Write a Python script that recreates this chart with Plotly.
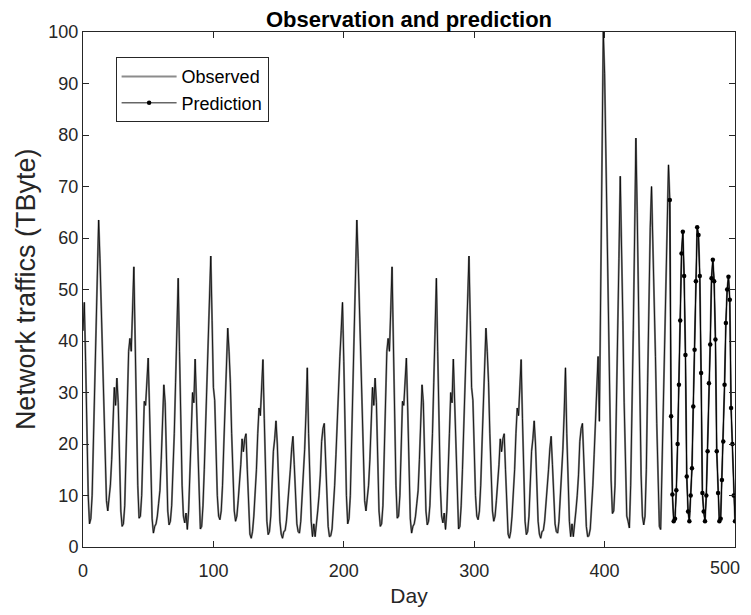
import plotly.graph_objects as go

# Repeating segment of daily observed traffic (days 0-197, repeated for days 198-395)
cycle_values = [
    42, 47.5, 36, 22, 10, 4.5, 5.5, 10, 20, 32,
    44, 55, 63.5, 56, 46, 36, 26, 15, 9, 7,
    9, 12, 17, 25, 31, 27.5, 32.8, 28, 17, 7,
    4, 4.5, 8, 17, 28, 38, 40.5, 38, 46, 54.4,
    40, 25, 12, 5.6, 6, 10, 19, 28.3, 27.5, 33,
    36.7, 27, 15, 5.5, 2.7, 4, 4.5, 6, 8.5, 11,
    17, 26, 31.5, 28, 16, 7, 4.3, 5, 8, 14,
    22, 32, 42, 52.2, 38, 24, 12, 6, 4.7, 6.6,
    3.4, 7, 13, 22, 30, 28, 36.5, 28, 17, 8,
    3.5, 4, 8, 15, 24, 33, 42, 50, 56.5, 44,
    31, 28.5, 18, 10, 6, 5.3, 7, 12, 20, 28,
    35, 42.5, 38, 32, 22, 13, 7, 5, 6, 9,
    12, 16, 21, 18.5, 21, 22, 15, 7, 2.5, 1.7,
    3, 6, 10, 15, 22, 27, 25.5, 31, 36.4, 25,
    13, 5, 2.4, 3, 6, 12, 18.6, 21, 24.5, 20,
    12, 5, 2.5, 1.7, 3, 3.2, 5, 8, 11, 15,
    19, 21.5, 16, 9, 4.5, 3, 2.7, 5, 9, 13,
    19, 26, 34.8, 22, 12, 5, 2, 4.5, 2, 4,
    7, 10, 14, 20.5, 23, 24, 17, 9, 4, 2,
    2.2, 3.5, 7, 12, 18, 25, 31, 37,
]

# Observed traffic for days 396-449
tail_values = [
    24.4, 50, 75, 100, 92, 76, 59, 42, 26, 13,
    6.5, 7, 12, 25, 40, 56, 72, 60, 44, 28,
    14, 6, 5, 3.7, 12, 25, 42, 60, 79.4, 65,
    48, 30, 14, 6, 4.3, 6, 15, 32, 50, 62,
    70, 60, 49, 37, 24, 12, 4, 3.4, 15, 27,
    42, 54, 64, 74.2,
]

# Predicted traffic for days 450-500
prediction_days = list(range(450, 501))
prediction_values = [
    67.4, 25.4, 10.2, 5.0, 5.5, 11.0, 20.0, 31.5, 44.0, 57.0,
    61.2, 52.6, 37.3, 13.7, 6.9, 5.0, 10.0, 15.3, 27.3, 38.3,
    51.6, 62.1, 60.6, 52.6, 33.8, 10.5, 6.9, 5.0, 10.0, 18.6,
    31.8, 39.3, 52.2, 55.8, 51.6, 40.3, 18.6, 10.5, 5.0, 5.5,
    13.0, 20.5, 31.5, 43.5, 50.0, 52.5, 48.0, 27.0, 20.0, 10.0, 5.0,
]

series = cycle_values + cycle_values + tail_values + prediction_values
days = list(range(0, len(series)))

x_ticks = [0, 100, 200, 300, 400, 500]
x_tick_labels = ["0", "100", "200", "300", "400", "500"]
y_ticks = [0, 10, 20, 30, 40, 50, 60, 70, 80, 90, 100]

FONT = "Liberation Sans, Arial, sans-serif"

fig = go.Figure()
fig.add_trace(go.Scatter(
    x=days, y=series, mode="lines", name="Observed",
    line=dict(color="#8c8c8c", width=2.0),
))
fig.add_trace(go.Scatter(
    x=days, y=series, mode="lines", name="fit", showlegend=False,
    line=dict(color="#000000", width=0.8),
))
fig.add_trace(go.Scatter(
    x=prediction_days, y=prediction_values, mode="lines+markers", name="Prediction",
    line=dict(color="#000000", width=0.9),
    marker=dict(color="#000000", size=4.5),
))

axis_common = dict(
    showline=True, linecolor="#262626", linewidth=1, mirror="ticks",
    ticks="inside", ticklen=6, tickcolor="#262626", tickwidth=1,
    showgrid=False, zeroline=False, automargin=False,
    tickfont=dict(family=FONT, size=18, color="#262626"),
)

# last x tick label is placed as an annotation, nudged so it stays inside the page
shown_x_labels = x_tick_labels[:-1] + [""]

fig.update_layout(
    width=743, height=599,
    margin=dict(l=75, r=16, t=24, b=60, autoexpand=False),
    paper_bgcolor="white", plot_bgcolor="white",
    title=dict(text="<b>Observation and prediction</b>", x=0.5, xref="paper", xanchor="center",
               y=1, yref="paper", yanchor="bottom", pad=dict(b=5), automargin=False,
               font=dict(family=FONT, size=22, color="#000000")),
    xaxis=dict(range=[0, 500], tickvals=x_ticks, ticktext=shown_x_labels,
               ticklabelstandoff=7,
               title=dict(text="Day", font=dict(family=FONT, size=21, color="#262626"), standoff=15),
               **axis_common),
    yaxis=dict(range=[0, 100], tickvals=y_ticks, ticktext=[str(v) for v in y_ticks],
               **axis_common),
    annotations=[
        dict(
            text="Network traffics (TByte)", textangle=-90,
            x=-0.088, y=0.5, xref="paper", yref="paper",
            xanchor="center", yanchor="middle", showarrow=False,
            font=dict(family=FONT, size=27, color="#262626"),
        ),
        dict(
            text=x_tick_labels[-1], x=x_ticks[-1], y=0, xref="x", yref="paper",
            xanchor="right", yanchor="top", xshift=7, yshift=-9, showarrow=False,
            font=dict(family=FONT, size=18, color="#262626"),
        ),
    ],
    legend=dict(x=0.05, y=0.951, xanchor="left", yanchor="top",
                bgcolor="white", bordercolor="#262626", borderwidth=1,
                font=dict(family=FONT, size=18, color="#000000"),
                tracegroupgap=0, itemwidth=55),
    showlegend=True,
)

fig.write_html("out.html")
